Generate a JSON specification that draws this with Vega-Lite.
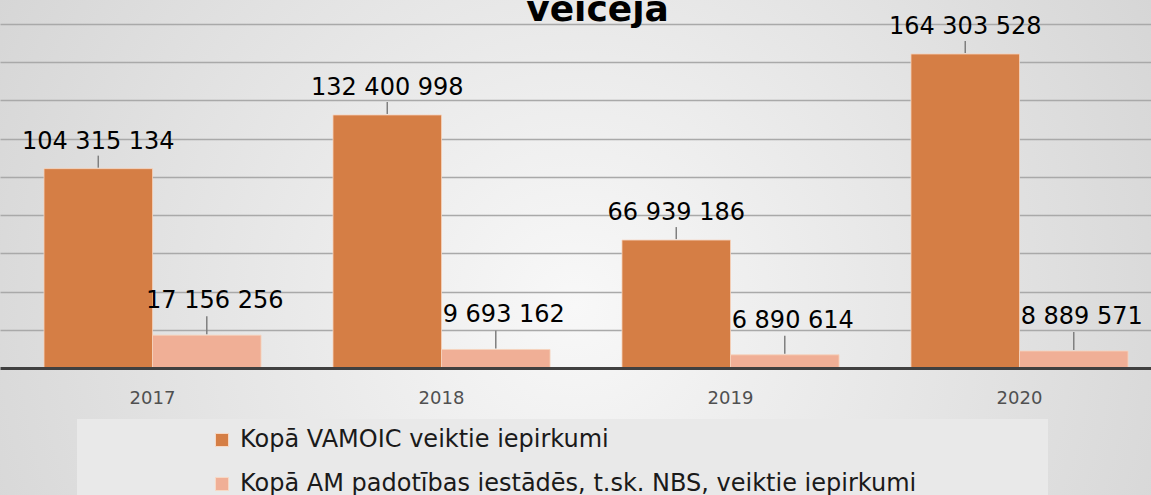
{
  "$schema": "https://vega.github.io/schema/vega-lite/v6.json",
  "width": 1151,
  "height": 495,
  "autosize": "none",
  "padding": 0,
  "background": "#d6d6d6",
  "view": {
    "stroke": null,
    "fill": {"gradient": "radial", "x1": 0.5, "y1": 0.55, "r1": 0, "x2": 0.5, "y2": 0.55, "r2": 0.75,
      "stops": [{"offset": 0, "color": "#f8f8f8"}, {"offset": 1, "color": "#cbcbcb"}]}
  },
  "config": {
    "font": "DejaVu Sans",
    "locale": {"number": {"decimal": ",", "thousands": " ", "grouping": [3], "currency": ["", " €"]}}
  },
  "title": {
    "text": "veicēja",
    "fontSize": 36,
    "fontWeight": "bold",
    "color": "#000000",
    "font": "DejaVu Sans",
    "anchor": "middle",
    "frame": "group",
    "orient": "top",
    "offset": -37,
    "baseline": "alphabetic",
    "dy": 20,
    "dx": 22,
    "zindex": 2
  },
  "data": {
    "values": [
      {"year": "2017", "series": "Kopā VAMOIC veiktie iepirkumi", "value": 104315134},
      {"year": "2017", "series": "Kopā AM padotības iestādēs, t.sk. NBS, veiktie iepirkumi", "value": 17156256},
      {"year": "2018", "series": "Kopā VAMOIC veiktie iepirkumi", "value": 132400998},
      {"year": "2018", "series": "Kopā AM padotības iestādēs, t.sk. NBS, veiktie iepirkumi", "value": 9693162},
      {"year": "2019", "series": "Kopā VAMOIC veiktie iepirkumi", "value": 66939186},
      {"year": "2019", "series": "Kopā AM padotības iestādēs, t.sk. NBS, veiktie iepirkumi", "value": 6890614},
      {"year": "2020", "series": "Kopā VAMOIC veiktie iepirkumi", "value": 164303528},
      {"year": "2020", "series": "Kopā AM padotības iestādēs, t.sk. NBS, veiktie iepirkumi", "value": 8889571}
    ]
  },
  "encoding": {
    "x": {
      "field": "year",
      "type": "nominal",
      "sort": null,
      "scale": {"paddingInner": 0.249, "paddingOuter": 0.1159, "align": 0.657},
      "axis": {
        "title": null,
        "orient": "bottom",
        "offset": -127,
        "zindex": 1,
        "labelAngle": 0,
        "ticks": false,
        "domainColor": "#404040",
        "domainWidth": 3,
        "labelFont": "DejaVu Sans",
        "labelFontSize": 18,
        "labelColor": "#505050",
        "labelPadding": 21
      }
    },
    "xOffset": {
      "field": "series",
      "type": "nominal",
      "sort": ["Kopā VAMOIC veiktie iepirkumi", "Kopā AM padotības iestādēs, t.sk. NBS, veiktie iepirkumi"]
    },
    "y": {
      "field": "value",
      "type": "quantitative",
      "scale": {"domain": [-66450000, 192560000], "nice": false, "zero": false},
      "axis": {
        "title": null,
        "labels": false,
        "ticks": false,
        "domain": false,
        "grid": true,
        "gridColor": "#a9a9a9",
        "gridWidth": 1.3,
        "values": [20000000, 40000000, 60000000, 80000000, 100000000, 120000000, 140000000, 160000000, 180000000]
      }
    }
  },
  "layer": [
    {
      "mark": {"type": "bar", "stroke": "#f6d3bd", "strokeWidth": 1, "strokeOpacity": 0.8},
      "encoding": {
        "y2": {"datum": 0},
        "color": {
          "field": "series",
          "type": "nominal",
          "sort": ["Kopā VAMOIC veiktie iepirkumi", "Kopā AM padotības iestādēs, t.sk. NBS, veiktie iepirkumi"],
          "scale": {
            "domain": ["Kopā VAMOIC veiktie iepirkumi", "Kopā AM padotības iestādēs, t.sk. NBS, veiktie iepirkumi"],
            "range": ["#d57e45", "#f0af96"]
          },
          "legend": {
            "orient": "none",
            "legendX": 77,
            "legendY": 419,
            "direction": "vertical",
            "title": "\u200b\u00a0\u00a0\u00a0\u00a0\u00a0\u00a0\u00a0\u00a0\u00a0\u00a0\u00a0\u00a0\u00a0\u00a0\u200b",
            "titleOrient": "left",
            "titleAngle": 0,
            "titlePadding": 7,
            "titleFontSize": 24,
            "titleFont": "DejaVu Sans",
            "padding": 9,
            "fillColor": "#e9e9e9",
            "strokeColor": null,
            "symbolType": "square",
            "symbolSize": 170,
            "symbolStrokeWidth": 1,
            "symbolStrokeColor": "#f7d9c6",
            "symbolOpacity": 1,
            "labelFont": "DejaVu Sans",
            "labelFontSize": 24,
            "labelColor": "#1a1a1a",
            "labelOffset": 6,
            "labelLimit": 1200,
            "rowPadding": 20,
            "labelExpr": "datum.label + '\u00a0\u00a0\u00a0\u00a0\u00a0\u00a0\u00a0\u00a0\u00a0\u00a0\u00a0\u00a0\u00a0\u00a0\u00a0\u00a0\u200b'"
          }
        }
      }
    },
    {
      "transform": [{"filter": "datum.series === 'Kopā VAMOIC veiktie iepirkumi'"}],
      "mark": {"type": "rule", "yOffset": -1, "y2Offset": -13, "color": "#7f7f7f", "strokeWidth": 1.5},
      "encoding": {"y2": {"field": "value"}}
    },
    {
      "transform": [{"filter": "datum.series !== 'Kopā VAMOIC veiktie iepirkumi'"}],
      "mark": {"type": "rule", "yOffset": -1, "y2Offset": -19, "color": "#7f7f7f", "strokeWidth": 1.5},
      "encoding": {"y2": {"field": "value"}}
    },
    {
      "transform": [{"filter": "datum.series === 'Kopā VAMOIC veiktie iepirkumi'"}],
      "mark": {"type": "text", "dy": -27, "fontSize": 24, "font": "DejaVu Sans", "color": "#000000", "baseline": "middle"},
      "encoding": {"text": {"field": "value", "type": "quantitative", "format": ",d"}}
    },
    {
      "transform": [{"filter": "datum.series !== 'Kopā VAMOIC veiktie iepirkumi'"}],
      "mark": {"type": "text", "dy": -34, "dx": 8, "fontSize": 24, "font": "DejaVu Sans", "color": "#000000", "baseline": "middle"},
      "encoding": {"text": {"field": "value", "type": "quantitative", "format": ",d"}}
    }
  ]
}
